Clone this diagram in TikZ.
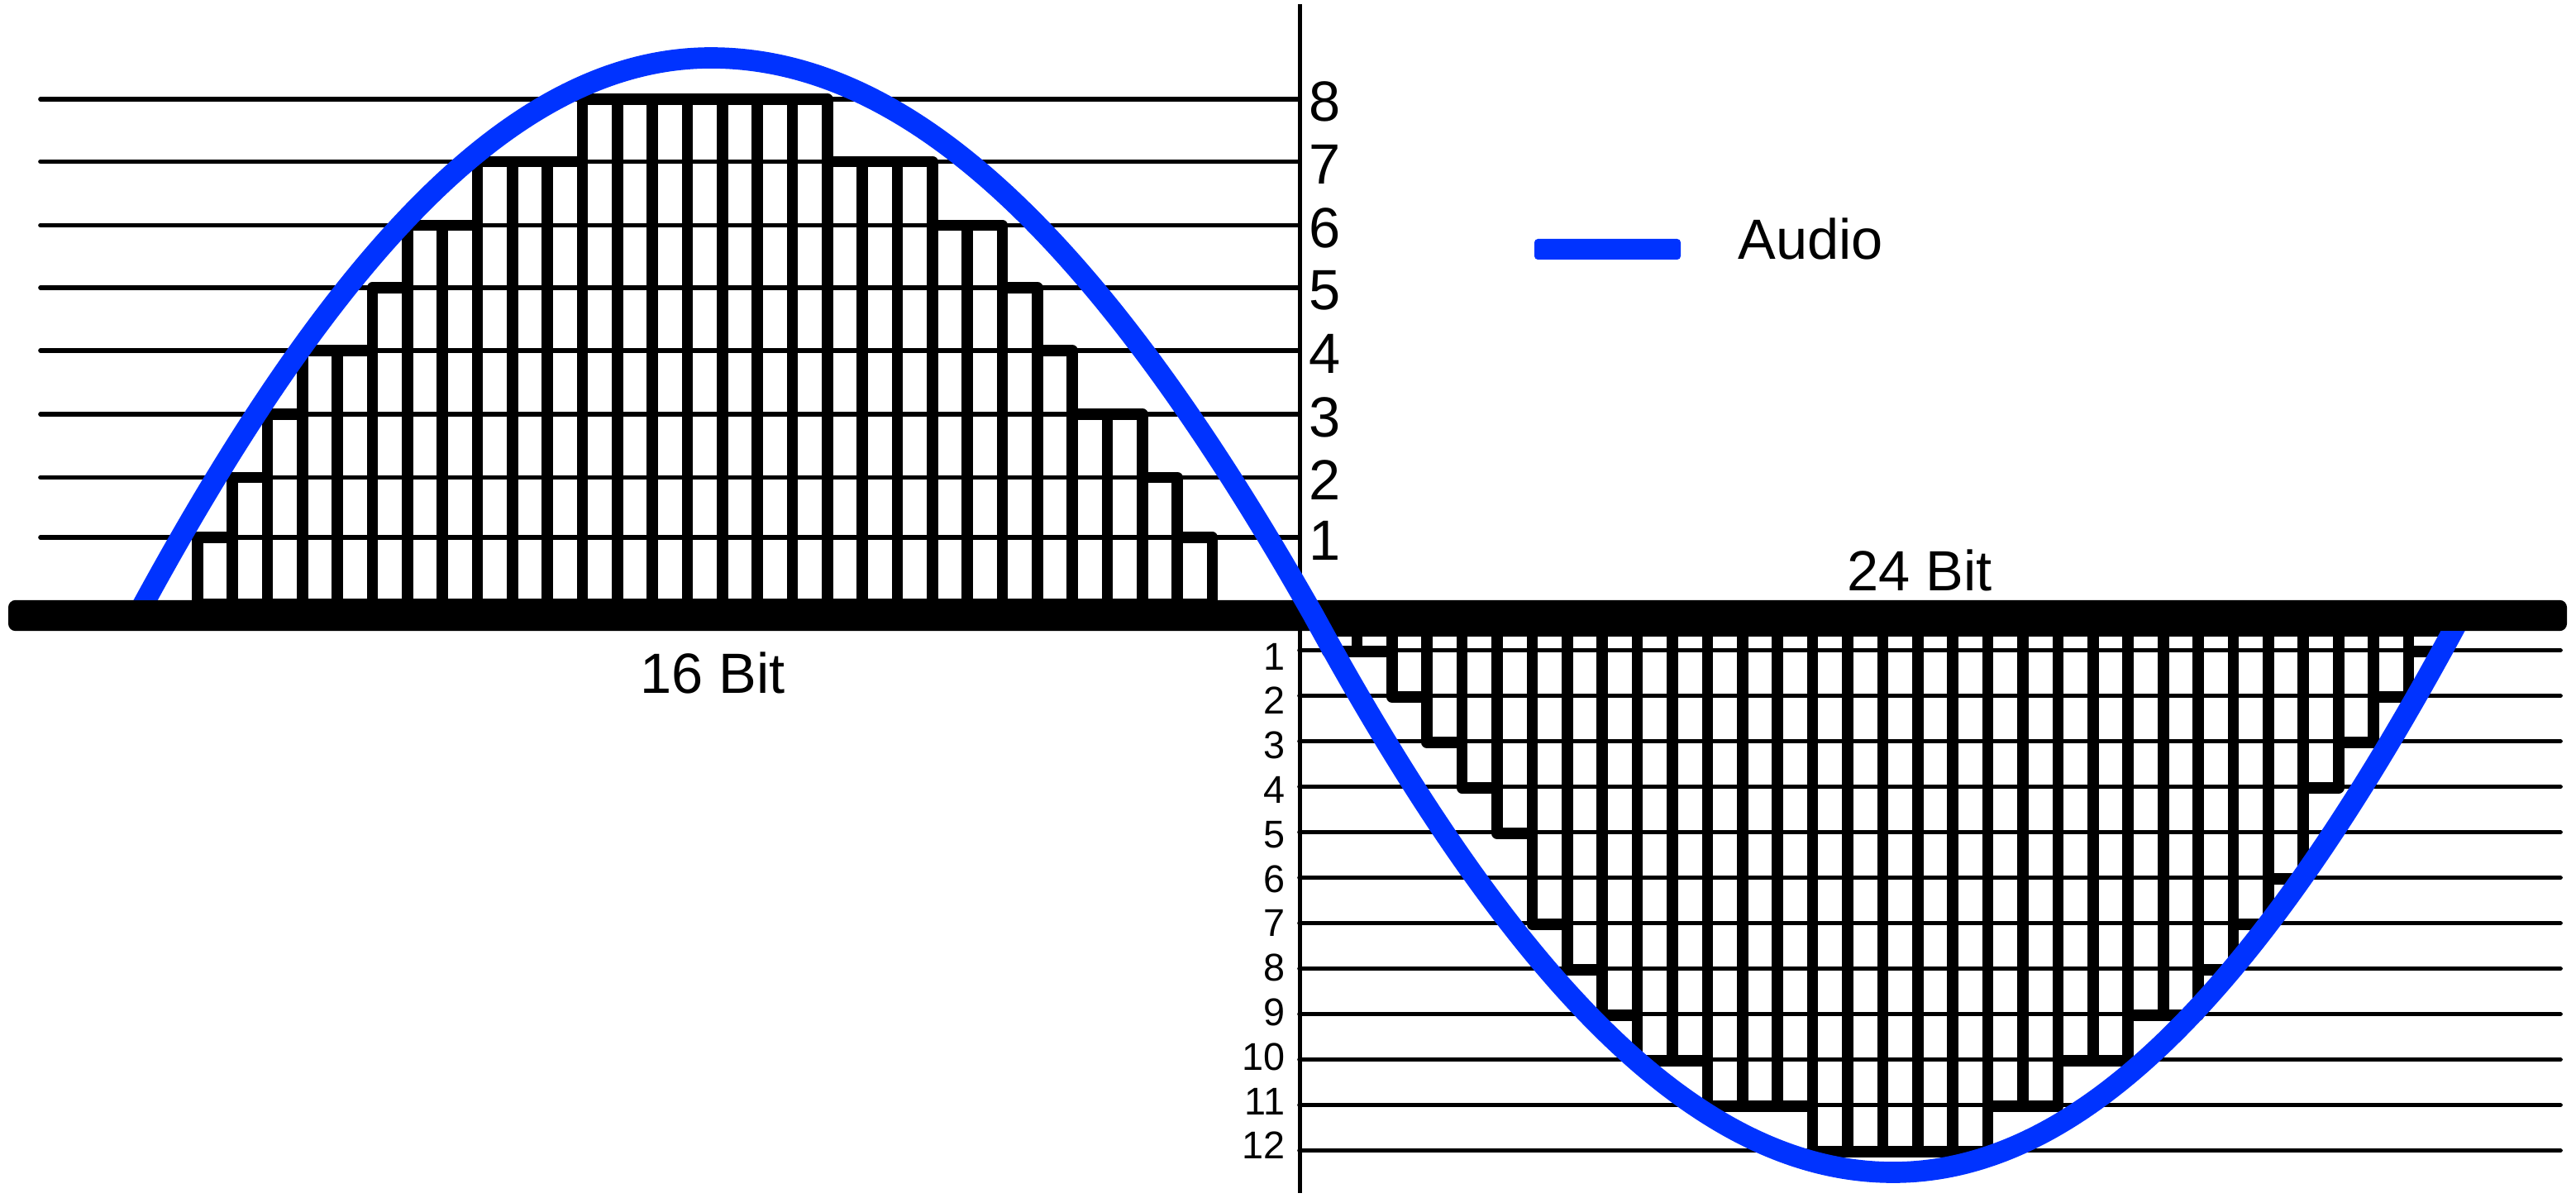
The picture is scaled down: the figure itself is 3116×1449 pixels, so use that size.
\documentclass[tikz,border=0pt]{standalone}
\usepackage{fontspec}
\setmainfont{Liberation Sans}
\definecolor{audioblue}{RGB}{0,51,255}
\tikzset{
  gridline/.style={line width=1.62pt, black, line cap=round},
  axisline/.style={line width=1.45pt, black},
  barbox/.style={line width=3.9pt, black, line join=round},
  audiocurve/.style={line width=7.3pt, audioblue},
  biglabel/.style={font=\fontsize{19.5}{22}\selectfont, inner sep=0pt},
  smalllabel/.style={font=\fontsize{13.3}{15}\selectfont, inner sep=0pt},
}
\begin{document}
\begin{tikzpicture}[x=0.01cm, y=-0.01cm]
\useasboundingbox (0,0) rectangle (3116,1449);
% upper grid lines and labels
\foreach \yy [count=\k] in {650,577.5,501,424,348,272.5,195.5,120} {
  \draw[gridline] (49,\yy) -- (1572,\yy);
  \node[biglabel, anchor=base] (u\k) at (1603,\yy+27) {\k};
}
% lower grid lines and labels
\foreach \k in {1,...,12} {
  \pgfmathsetmacro\yy{786.6+(\k-1)*55}
  \pgfmathsetmacro\ly{810+(\k-1)*53.8}
  \draw[gridline] (1572,\yy) -- (3097,\yy);
  \node[smalllabel, anchor=base east] (d\k) at (1555,\ly) {\k};
}
% vertical axis
\draw[axisline] (1572.5,5) -- (1572.5,1443);
% upper bars
\foreach \lev [count=\i from 0] in {1,2,3,4,4,5,6,6,7,7,7,8,8,8,8,8,8,8,7,7,7,6,6,5,4,3,3,2,1} {
  \pgfmathsetmacro\yy{{650,577.5,501,424,348,272.5,195.5,120}[\lev-1]}
  \pgfmathsetmacro\xa{238.8+\i*42.33}
  \pgfmathsetmacro\xb{238.8+(\i+1)*42.33}
  \draw[barbox] (\xa,731) rectangle (\xb,\yy);
}
% lower bars
\foreach \lev [count=\i from 0] in {1,1,2,3,4,5,7,8,9,10,10,11,11,11,12,12,12,12,12,11,11,10,10,9,9,8,7,6,4,3,2,1} {
  \pgfmathsetmacro\yy{786.6+(\lev-1)*55+1.5}
  \pgfmathsetmacro\xa{ifthenelse(\i==0,1606,1599+\i*42.4)}
  \pgfmathsetmacro\xb{1599+(\i+1)*42.4}
  \draw[barbox] (\xa,763.3) rectangle (\xb,\yy);
}
% baseline bar
\fill[black, rounded corners=2.5pt] (10,725.8) rectangle (3105,763.2);
% audio curve
\draw[audiocurve] (166,744.5) .. controls (409,294.8) and (628.7,70) .. (860,70)
  .. controls (1103,70) and (1334,294.8) .. (1589,744.5)
  .. controls (1834,1193.5) and (2056.3,1418) .. (2290,1418)
  .. controls (2519,1418) and (2736.5,1193.5) .. (2977,744.5);
% hide the curve ends behind the baseline bar
\fill[black] (140,725.8) rectangle (215,763.2);
\fill[black] (2935,725.8) rectangle (3010,763.2);
% legend
\fill[audioblue, rounded corners=1.2pt] (1856,289) rectangle (2033,314);
\node[biglabel, anchor=base west] (audio) at (2102,314) {Audio};
% captions
\node[biglabel, anchor=base] (bit16) at (862,838) {16 Bit};
\node[biglabel, anchor=base] (bit24) at (2322,714) {24 Bit};
\end{tikzpicture}
\end{document}
